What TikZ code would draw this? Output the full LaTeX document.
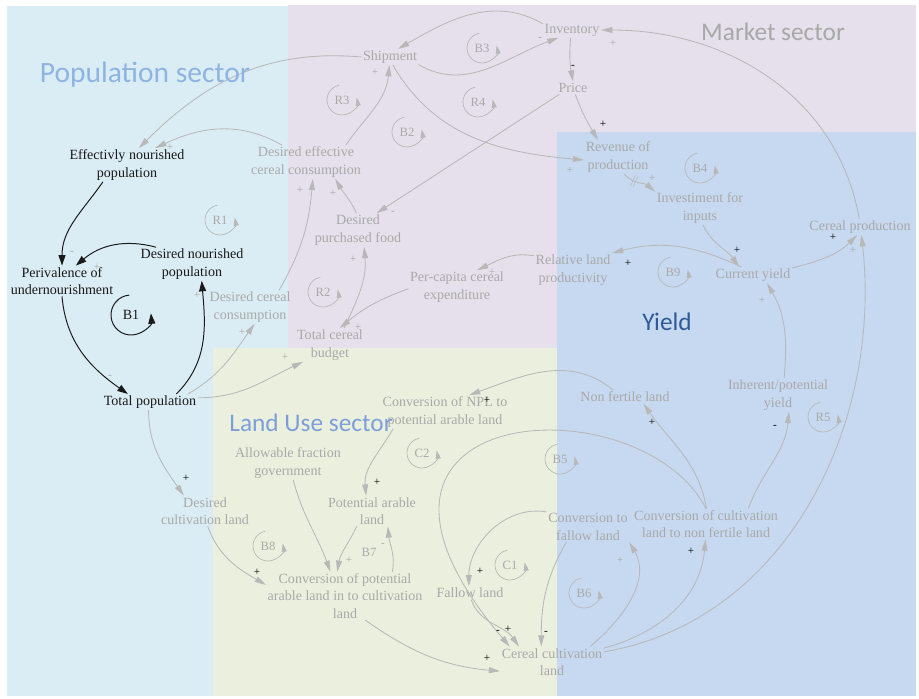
\documentclass[tikz,border=0pt]{standalone}
\usepackage{fontspec}
\setmainfont{Liberation Serif}
\newfontfamily\sectorfont{Carlito}
\usepackage{tikz}
\usetikzlibrary{arrows.meta}
\definecolor{popbg}{HTML}{DAEDF4}
\definecolor{marketbg}{HTML}{E6E0EC}
\definecolor{landbg}{HTML}{EBF0DE}
\definecolor{yieldbg}{HTML}{C6D9F0}
\definecolor{vargray}{HTML}{A9A9A9}
\definecolor{linkgray}{HTML}{B8B8B8}
\definecolor{popblack}{HTML}{1A1A1A}
\definecolor{poptitle}{HTML}{8EB4E3}
\definecolor{landtitle}{HTML}{7C9FD9}
\definecolor{yieldtitle}{HTML}{2F5A96}
\definecolor{markettitle}{HTML}{A8A8A8}
\tikzset{
  var/.style={align=center,inner sep=1pt,text=vargray,font=\fontsize{10}{12.4}\selectfont},
  popvar/.style={var,text=popblack},
  link/.style={-{Triangle[length=8pt,width=4.2pt]},line width=0.6pt,draw=linkgray},
  poplink/.style={-{Triangle[length=7.5pt,width=5pt]},line width=0.7pt,draw=popblack},
  looplbl/.style={inner sep=0pt,text=vargray,font=\fontsize{9}{9}\selectfont},
  looparc/.style={-{Triangle[length=6pt,width=3.6pt]},line width=0.5pt,draw=linkgray},
  sgn/.style={inner sep=0pt,text=black,font=\fontsize{8}{8}\selectfont},
  fsgn/.style={sgn,text=vargray},
  sector/.style={inner sep=0pt,font=\sectorfont\fontsize{18}{18}\selectfont}
}

\begin{document}
\begin{tikzpicture}[x=0.025cm,y=0.025cm]
\useasboundingbox (0,0) rectangle (919,698);
\fill[popbg] (7,2) rectangle (560,692);
\fill[marketbg] (288,350) rectangle (916,693);
\fill[landbg] (213,2) rectangle (557,350);
\fill[yieldbg] (557,2) rectangle (916,566);

% population sector
\node[popvar] (eff) at (127,533) {Effectivly nourished\\population};
\node[popvar] (dnp) at (192,434) {Desired nourished\\population};
\node[popvar] (prev) at (62,417) {Perivalence of\\undernourishment};
\node[popvar] (tpop) at (150,296) {Total population};
\node[inner sep=0pt,text=popblack,font=\fontsize{10}{10}\selectfont] (B1) at (131,383) {B1};
\draw[poplink] (B1.center) ++(95:20) arc[start angle=95,end angle=365,radius=20];

% market sector
\node[var] (dec) at (306,536) {Desired effective\\cereal consumption};
\node[var] (dpf) at (358,468) {Desired\\purchased food};
\node[var] (dcc) at (250,391) {Desired cereal\\consumption};
\node[var] (tcb) at (330,353) {Total cereal\\budget};
\node[var] (pce) at (457,411) {Per-capita cereal\\expenditure};
\node[var] (rlp) at (573,428) {Relative land\\productivity};
\node[var] (ship) at (390,641) {Shipment};
\node[var] (inv) at (572,668) {Inventory};
\node[var] (price) at (573,610) {Price};

% yield
\node[var] (rev) at (618,541) {Revenue of\\production};
\node[var] (inp) at (700,490) {Investiment for\\inputs};
\node[var] (cy) at (753,423) {Current yield};
\node[var] (cp) at (860,471) {Cereal production};
\node[var] (iy) at (778,303) {Inherent/potential\\yield};
\node[var] (nfl) at (625,301) {Non fertile land};

% land use sector
\node[var] (npl) at (445,286) {Conversion of NPL to\\potential arable land};
\node[var] (afg) at (288,235) {Allowable fraction\\government};
\node[var] (pal) at (372,187) {Potential arable\\land};
\node[var] (dcl) at (205,187) {Desired\\cultivation land};
\node[var] (cpa) at (345,102) {Conversion of potential\\arable land in to cultivation\\land};
\node[var] (ctf) at (588,171) {Conversion to\\fallow land};
\node[var] (ccn) at (706,174) {Conversion of cultivation\\land to non fertile land};
\node[var] (fl) at (470,105) {Fallow land};
\node[var] (ccl) at (552,36) {Cereal cultivation\\land};

% loops
\node[looplbl] (R1) at (220,478) {R1};
\draw[looparc] (R1.center) ++(100:15) arc[start angle=100,end angle=370,radius=15];
\node[looplbl] (R2) at (323,406) {R2};
\draw[looparc] (R2.center) ++(100:15) arc[start angle=100,end angle=370,radius=15];
\node[looplbl] (R3) at (342,598) {R3};
\draw[looparc] (R3.center) ++(100:15) arc[start angle=100,end angle=370,radius=15];
\node[looplbl] (R4) at (478,596) {R4};
\draw[looparc] (R4.center) ++(100:15) arc[start angle=100,end angle=370,radius=15];
\node[looplbl] (B2) at (407,566) {B2};
\draw[looparc] (B2.center) ++(100:15) arc[start angle=100,end angle=370,radius=15];
\node[looplbl] (B3) at (482,650) {B3};
\draw[looparc] (B3.center) ++(100:15) arc[start angle=100,end angle=370,radius=15];
\node[looplbl] (B4) at (700,530) {B4};
\draw[looparc] (B4.center) ++(100:15) arc[start angle=100,end angle=370,radius=15];
\node[looplbl] (B9) at (673,426) {B9};
\draw[looparc] (B9.center) ++(100:15) arc[start angle=100,end angle=370,radius=15];
\node[looplbl] (R5) at (823,281) {R5};
\draw[looparc] (R5.center) ++(100:15) arc[start angle=100,end angle=370,radius=15];
\node[looplbl] (C2) at (422,245) {C2};
\draw[looparc] (C2.center) ++(100:15) arc[start angle=100,end angle=370,radius=15];
\node[looplbl] (B5) at (560,239) {B5};
\draw[looparc] (B5.center) ++(100:15) arc[start angle=100,end angle=370,radius=15];
\node[looplbl] (B8) at (268,152) {B8};
\draw[looparc] (B8.center) ++(100:15) arc[start angle=100,end angle=370,radius=15];
\node[looplbl] (C1) at (510,133) {C1};
\draw[looparc] (C1.center) ++(100:15) arc[start angle=100,end angle=370,radius=15];
\node[looplbl] (B6) at (584,105) {B6};
\draw[looparc] (B6.center) ++(100:15) arc[start angle=100,end angle=370,radius=15];
\node[looplbl] (B7) at (369,146) {B7};

% links
\draw[poplink] (eff.215) to[out=235,in=90] (prev.north);
\draw[poplink] (dnp.155) to[out=165,in=40] (prev.48);
\draw[poplink] (prev.south) to[out=275,in=145] (tpop.160);
\draw[poplink] (tpop.17) to[out=45,in=275] (dnp.300);
\draw[link] (tpop.12) to[out=30,in=235] (dcc.285);
\draw[link] (tpop.5) to[out=0,in=205] (tcb.212);
\draw[link] (tpop.260) to[out=270,in=125] (dcl.144);
\draw[link] (dcl.280) to[out=290,in=150] (cpa.172);
\draw[link] (afg.287) to[out=285,in=110] (cpa.121);
\draw[link] (pal.225) to[out=245,in=80] (cpa.108);
\draw[link] (cpa.27) to[out=80,in=275] (pal.316);
\draw[link] (cpa.310) to[out=-35,in=175] (ccl.190);
\draw[link] (npl.198) to[out=240,in=95] (pal.111);
\draw[link] (nfl.150) to[out=140,in=20] (npl.35);
\draw[link] (ccn.88) to[out=100,in=305] (nfl.340);
\draw[link] (ccn.north) .. controls (640,318) and (300,298) .. (ccl.160);
\draw[link] (ccn.20) to[out=70,in=265] (iy.303);
\draw[link] (ccl.11) .. controls (790,78) and (882,278) .. (cp.280);
\draw[link] (ccl.15) to[out=15,in=265] (ccn.268);
\draw[link] (ccl.22) to[out=40,in=300] (ctf.south east);
\draw[link] (ctf.160) to[out=170,in=90] (fl.100);
\draw[link] (ctf.215) to[out=240,in=90] (ccl.125);
\draw[link] (fl.280) to[out=290,in=125] (ccl.155);
\draw[link] (rev.290) to[out=310,in=140] node[pos=.35,sloped,inner sep=0pt,text=linkgray,font=\fontsize{9}{9}\selectfont] (dly) {||} (inp.160);
\draw[link] (inp.280) to[out=295,in=125] (cy.150);
\draw[link] (cy.145) to[out=155,in=15] (rlp.north east);
\draw[link] (cy.10) to[out=15,in=225] (cp.250);
\draw[link] (iy.70) to[out=85,in=300] (cy.330);
\draw[link] (cp.95) to[out=100,in=0] (inv.east);
\draw[link] (price.290) to[out=290,in=120] (rev.140);
\draw[link] (inv.260) to[out=265,in=100] (price.north);
\draw[link] (inv.168) to[out=150,in=30] (ship.45);
\draw[link] (ship.345) to[out=330,in=200] (inv.210);
\draw[link] (ship.290) to[out=300,in=175] (rev.185);
\draw[link] (price.205) -- (dpf.42);
\draw[link] (dec.23) to[out=55,in=265] (ship.265);
\draw[link] (dpf.95) to[out=115,in=300] (dec.330);
\draw[link] (dcc.30) to[out=60,in=265] (dec.292);
\draw[link] (tcb.50) to[out=65,in=275] (dpf.290);
\draw[link] (pce.182) to[out=200,in=40] (tcb.60);
\draw[link] (rlp.160) to[out=170,in=25] (pce.40);
\draw[link] (ship.180) to[out=175,in=45] (eff.55);
\draw[link] (dec.145) to[out=150,in=25] (eff.31);

% polarity signs
\node[fsgn] (s1) at (72,445) {-};
\node[fsgn] (s2) at (97,431) {+};
\node[fsgn] (s3) at (110,321) {-};
\node[fsgn] (s4) at (197,403) {+};
\node[fsgn] (s5) at (242,366) {+};
\node[fsgn] (s6) at (285,341) {+};
\node[sgn] (s7) at (186,220) {+};
\node[sgn] (s8) at (257,126) {+};
\node[fsgn] (s9) at (349,138) {+};
\node[fsgn] (s10) at (383,153) {-};
\node[sgn] (s11) at (487,40) {+};
\node[sgn] (s12) at (377,216) {+};
\node[sgn] (s13) at (487,298) {+};
\node[sgn] (s14) at (652,276) {+};
\node[sgn] (s15) at (498,66) {-};
\node[sgn] (s16) at (775,271) {-};
\node[fsgn] (s17) at (853,448) {+};
\node[sgn] (s18) at (691,147) {+};
\node[fsgn] (s19) at (620,138) {+};
\node[sgn] (s20) at (480,127) {+};
\node[sgn] (s21) at (546,65) {-};
\node[sgn] (s22) at (508,69) {+};
\node[fsgn] (s23) at (652,520) {+};
\node[sgn] (s24) at (737,448) {+};
\node[sgn] (s25) at (628,435) {+};
\node[sgn] (s26) at (833,461) {+};
\node[fsgn] (s27) at (762,398) {+};
\node[fsgn] (s28) at (613,655) {+};
\node[sgn] (s29) at (603,574) {+};
\node[sgn] (s30) at (573,631) {-};
\node[fsgn] (s31) at (540,659) {-};
\node[fsgn] (s32) at (570,528) {+};
\node[fsgn] (s33) at (393,485) {-};
\node[fsgn] (s34) at (375,626) {+};
\node[fsgn] (s35) at (333,505) {+};
\node[fsgn] (s36) at (300,508) {+};
\node[fsgn] (s37) at (353,439) {+};
\node[fsgn] (s38) at (358,371) {+};
\node[fsgn] (s39) at (492,426) {+};
\node[fsgn] (s40) at (170,551) {+};

% sector titles
\node[sector,text=poptitle,font=\sectorfont\fontsize{21}{21}\selectfont] (poptitle) at (145,623) {Population sector};
\node[sector,text=markettitle] (markettitle) at (773,666) {Market sector};
\node[sector,text=yieldtitle] (yieldtitle) at (667,376) {Yield};
\node[sector,text=landtitle] (landtitle) at (311,275) {Land Use sector};
\end{tikzpicture}
\end{document}
